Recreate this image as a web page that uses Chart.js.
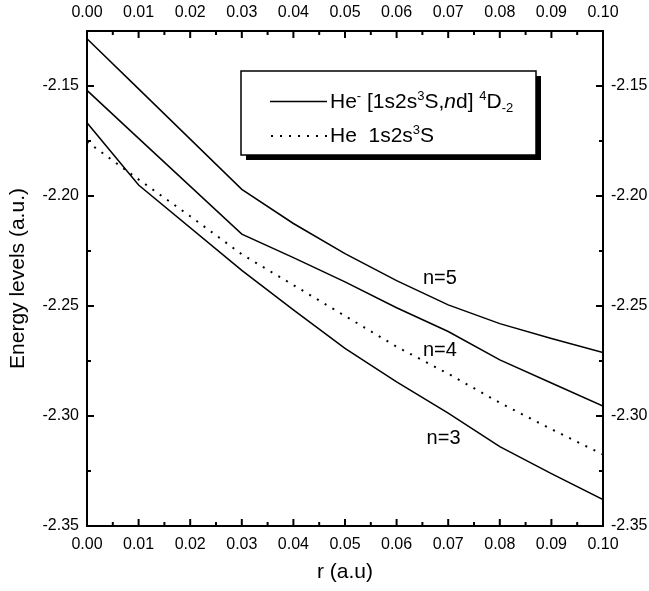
<!DOCTYPE html>
<html><head><meta charset="utf-8">
<script src="https://cdn.jsdelivr.net/npm/chart.js@4/dist/chart.umd.min.js"></script>
<style>html,body{margin:0;padding:0;background:#fff;}#wrap{width:649px;height:591px;position:relative;}</style>
</head><body><div id="wrap"><canvas id="c" width="649" height="591"></canvas></div>
<script>
// ---- data ----
const rValues = [0, 0.01, 0.03, 0.04, 0.05, 0.06, 0.07, 0.08, 0.09, 0.10];
const n3 = [-2.1667, -2.1950, -2.2338, -2.2518, -2.2693, -2.2845, -2.2987, -2.3139, -2.3262, -2.3380];
const n4 = [-2.1520, -2.1738, -2.2173, -2.2280, -2.2390, -2.2508, -2.2616, -2.2745, -2.2850, -2.2955];
const n5 = [-2.1285, -2.1513, -2.1970, -2.2125, -2.2262, -2.2385, -2.2495, -2.2580, -2.2648, -2.2712];
const rHe = [0, 0.01, 0.02, 0.03, 0.04, 0.05, 0.06, 0.07, 0.08, 0.09, 0.10];
const heAtom = [-2.1753, -2.1925, -2.2092, -2.2265, -2.2405, -2.2545, -2.2685, -2.2808, -2.2940, -2.3060, -2.3175];
const xTicks = [0, 0.01, 0.02, 0.03, 0.04, 0.05, 0.06, 0.07, 0.08, 0.09, 0.10];
const yTicks = [-2.35, -2.30, -2.25, -2.20, -2.15];
const curveLabels = ['n=5', 'n=4', 'n=3'];

const FONT = 'Liberation Sans, Arial, Helvetica, sans-serif';
const toPts = (xs, ys) => xs.map((x, i) => ({x: x, y: ys[i]}));

function ds(label, pts, dashed) {
  return {label, data: pts, showLine: true, borderColor: '#000', backgroundColor: '#000',
    borderWidth: dashed ? 2 : 1.5, borderDash: dashed ? [2, 7] : [], pointRadius: 0,
    tension: 0, xAxisID: 'x', yAxisID: 'y'};
}

function setTicks(list) { return s => { s.ticks = list.map(v => ({value: v})); }; }

function xScale(pos, withTitle, h) {
  return {type: 'linear', position: pos, min: 0, max: 0.1,
    afterBuildTicks: setTicks(xTicks),
    afterFit: s => { s.height = h; },
    grid: {display: false, drawTicks: false},
    border: {display: true, color: '#000', width: 2},
    ticks: {color: '#000', font: {family: FONT, size: 16}, padding: 9, maxRotation: 0,
      autoSkip: false, callback: v => Number(v).toFixed(2)},
    title: {display: withTitle, text: 'r (a.u)', color: '#000', font: {family: FONT, size: 21},
      padding: {top: 0, bottom: 6}}};
}
function yScale(pos, withTitle, w) {
  return {type: 'linear', position: pos, min: -2.35, max: -2.125,
    afterBuildTicks: setTicks(yTicks),
    afterFit: s => { s.width = w; },
    grid: {display: false, drawTicks: false},
    border: {display: true, color: '#000', width: 2},
    ticks: {color: '#000', font: {family: FONT, size: 16}, padding: 8,
      autoSkip: false, callback: v => Number(v).toFixed(2)},
    title: {display: withTitle, text: 'Energy levels (a.u.)', color: '#000', font: {family: FONT, size: 21},
      padding: {top: 6, bottom: 0}}};
}

// inward ticks on all four sides
const inwardTicks = {
  id: 'inwardTicks',
  afterDatasetsDraw(chart) {
    const ctx = chart.ctx, a = chart.chartArea;
    const xs = chart.scales.x, ys = chart.scales.y;
    ctx.save();
    ctx.strokeStyle = '#000'; ctx.lineWidth = 2;
    const major = 7, minor = 4;
    const line = (x1, y1, x2, y2) => { ctx.beginPath(); ctx.moveTo(x1, y1); ctx.lineTo(x2, y2); ctx.stroke(); };
    xTicks.forEach((v, i) => {
      const px = xs.getPixelForValue(v);
      line(px, a.bottom, px, a.bottom - major);
      line(px, a.top, px, a.top + major);
      if (i < xTicks.length - 1) {
        const pm = xs.getPixelForValue((v + xTicks[i + 1]) / 2);
        line(pm, a.bottom, pm, a.bottom - minor);
        line(pm, a.top, pm, a.top + minor);
      }
    });
    const yAll = yTicks.slice();
    yAll.forEach((v, i) => {
      const py = ys.getPixelForValue(v);
      line(a.left, py, a.left + major, py);
      line(a.right, py, a.right - major, py);
      const mv = v + 0.025;
      if (mv < ys.max) {
        const pm = ys.getPixelForValue(mv);
        line(a.left, pm, a.left + minor, pm);
        line(a.right, pm, a.right - minor, pm);
      }
    });
    ctx.restore();
  }
};

// curve annotations (anchored in data coordinates)
const curveText = {
  id: 'curveText',
  afterDatasetsDraw(chart, args, opts) {
    const ctx = chart.ctx, xs = chart.scales.x, ys = chart.scales.y;
    ctx.save();
    ctx.fillStyle = '#000'; ctx.font = '20px ' + FONT;
    ctx.textAlign = 'center'; ctx.textBaseline = 'middle';
    opts.items.forEach(it => ctx.fillText(it.text, xs.getPixelForValue(it.r), ys.getPixelForValue(it.e)));
    ctx.restore();
  }
};

// legend box with superscripts
const legendBox = {
  id: 'legendBox',
  afterDraw(chart) {
    const ctx = chart.ctx;
    const bx = 241, by = 71, bw = 295, bh = 84, sh = 5;
    ctx.save();
    ctx.fillStyle = '#000';
    ctx.fillRect(bx + sh, by + sh, bw, bh);
    ctx.fillStyle = '#fff';
    ctx.fillRect(bx, by, bw, bh);
    ctx.strokeStyle = '#000'; ctx.lineWidth = 1.5;
    ctx.strokeRect(bx, by, bw, bh);
    // samples
    ctx.lineWidth = 1.5;
    ctx.beginPath(); ctx.moveTo(270, 101.5); ctx.lineTo(327, 101.5); ctx.stroke();
    ctx.lineWidth = 2; ctx.setLineDash([2, 7]);
    ctx.beginPath(); ctx.moveTo(271, 136); ctx.lineTo(327, 136); ctx.stroke();
    ctx.setLineDash([]);
    const draw = (x, base, segs) => {
      ctx.textBaseline = 'alphabetic'; ctx.textAlign = 'left';
      segs.forEach(s => {
        const size = s.k === 'n' || s.k === 'i' ? 21 : 13;
        ctx.font = (s.k === 'i' ? 'italic ' : '') + size + 'px ' + FONT;
        const dy = s.k === 'sup' ? -8 : (s.k === 'sub' ? 4 : 0);
        ctx.fillText(s.t, x, base + dy);
        x += ctx.measureText(s.t).width;
      });
    };
    ctx.fillStyle = '#000';
    draw(330, 108, [{t: 'He', k: 'n'}, {t: '-', k: 'sup'}, {t: ' [1s2s', k: 'n'}, {t: '3', k: 'sup'},
      {t: 'S,', k: 'n'}, {t: 'n', k: 'i'}, {t: 'd] ', k: 'n'}, {t: '4', k: 'sup'}, {t: 'D', k: 'n'}, {t: '-2', k: 'sub'}]);
    draw(330, 142, [{t: 'He  1s2s', k: 'n'}, {t: '3', k: 'sup'}, {t: 'S', k: 'n'}]);
    ctx.restore();
  }
};

new Chart(document.getElementById('c'), {
  type: 'scatter',
  data: {datasets: [
    ds('n=3', toPts(rValues, n3), false),
    ds('n=4', toPts(rValues, n4), false),
    ds('n=5', toPts(rValues, n5), false),
    ds('He 1s2s3S', toPts(rHe, heAtom), true)
  ]},
  options: {
    responsive: false, animation: false, devicePixelRatio: 1,
    layout: {padding: 0},
    plugins: {legend: {display: false}, tooltip: {enabled: false},
      curveText: {items: [
        {text: curveLabels[0], r: 0.0684, e: -2.2373},
        {text: curveLabels[1], r: 0.0684, e: -2.2700},
        {text: curveLabels[2], r: 0.0691, e: -2.3100}]}},
    scales: {
      x: xScale('bottom', true, 65),
      x2: xScale('top', false, 31),
      y: yScale('left', true, 87),
      y2: yScale('right', false, 46)
    }
  },
  plugins: [inwardTicks, curveText, legendBox]
});
</script></body></html>
